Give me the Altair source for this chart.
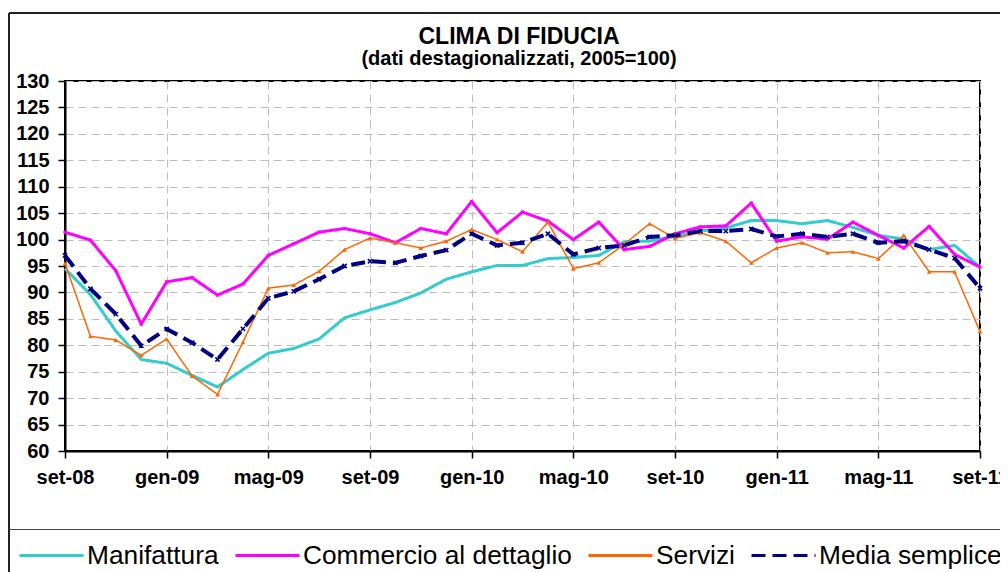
import json
import altair as alt
import pandas as pd

months = ["set-08", "ott-08", "nov-08", "dic-08",
          "gen-09", "feb-09", "mar-09", "apr-09", "mag-09", "giu-09", "lug-09", "ago-09",
          "set-09", "ott-09", "nov-09", "dic-09",
          "gen-10", "feb-10", "mar-10", "apr-10", "mag-10", "giu-10", "lug-10", "ago-10",
          "set-10", "ott-10", "nov-10", "dic-10",
          "gen-11", "feb-11", "mar-11", "apr-11", "mag-11", "giu-11", "lug-11", "ago-11",
          "set-11"]

manifattura = [94.5, 89.6, 82.7, 77.3, 76.6, 74.3, 72.1, 75.4, 78.5, 79.4, 81.2, 85.2,
               86.7, 88.1, 89.9, 92.5, 93.9, 95.1, 95.1, 96.4, 96.6, 97.0, 99.6, 99.7,
               100.6, 101.6, 102.2, 103.6, 103.6, 103.0, 103.6, 102.3, 100.8, 100.1, 98.1, 98.9,
               94.8]
commercio = [101.4, 99.9, 94.1, 84.0, 92.0, 92.8, 89.5, 91.6, 97.0, 99.2, 101.4, 102.1,
             101.1, 99.4, 102.1, 101.1, 107.2, 101.3, 105.2, 103.5, 100.0, 103.3, 98.1, 98.7,
             101.1, 102.4, 102.6, 106.9, 99.7, 100.5, 100.1, 103.3, 100.8, 98.4, 102.5, 97.2,
             94.8]
servizi = [95.5, 81.7, 81.0, 78.1, 81.2, 74.2, 70.7, 80.6, 90.8, 91.4, 94.0, 98.1,
           100.3, 99.4, 98.4, 99.7, 101.9, 100.0, 97.7, 103.3, 94.5, 95.6, 99.1, 103.0,
           100.2, 101.3, 99.7, 95.6, 98.4, 99.4, 97.5, 97.7, 96.4, 100.8, 93.9, 93.9,
           82.6]
media = [97.0, 90.7, 85.9, 79.9, 83.1, 80.5, 77.3, 83.1, 88.9, 90.2, 92.5, 95.0,
         95.9, 95.6, 96.9, 98.0, 101.1, 98.9, 99.4, 101.1, 97.2, 98.4, 98.9, 100.5,
         100.8, 101.6, 101.6, 102.0, 100.6, 101.1, 100.5, 101.1, 99.4, 99.7, 98.1, 96.5,
         90.8]

series_names = ["Manifattura", "Commercio al dettaglio", "Servizi", "Media semplice"]
series_values = [manifattura, commercio, servizi, media]
colors = ["#33CCCC", "#FF00FF", "#FF6600", "#000080"]
widths = [3, 3, 1.5, 4]
dashes = [[1, 0], [1, 0], [1, 0], [14, 7]]

y_ticks = list(range(60, 131, 5))
x_tick_positions = list(range(0, len(months), 4))

title_text = "CLIMA DI FIDUCIA"
subtitle_text = "(dati destagionalizzati, 2005=100)"

rows = []
for name, vals in zip(series_names, series_values):
    for i, (m, v) in enumerate(zip(months, vals)):
        rows.append({"mese": m, "pos": i, "serie": name, "valore": v})
df = pd.DataFrame(rows)

FONT = "Liberation Sans"
W, H = 915, 370

legend = alt.Legend(
    title=None, orient="none", legendX=-47, legendY=441, direction="horizontal",
    columns=4, symbolType="stroke", symbolSize=4096, symbolStrokeWidth=3,
    labelFont=FONT, labelFontSize=26.3, labelColor="black", labelOffset=2,
    columnPadding=10, padding=0, labelLimit=0,
)

x_enc = alt.X(
    "pos:Q",
    scale=alt.Scale(domain=[0, len(months) - 1], nice=False, zero=False),
    axis=alt.Axis(
        values=x_tick_positions, labelExpr=json.dumps(months) + "[datum.value]",
        title=None, grid=True, gridColor="#BDBDBD", gridDash=[8, 5], gridWidth=1,
        domainColor="black", domainWidth=2, tickColor="black", tickWidth=1.5, tickSize=7,
        labelFont=FONT, labelFontWeight="bold", labelFontSize=20, labelColor="black",
        labelPadding=9, labelFlush=False, labelOverlap=False,
    ),
)
y_enc = alt.Y(
    "valore:Q",
    scale=alt.Scale(domain=[60, 130], nice=False, zero=False),
    axis=alt.Axis(
        values=y_ticks, title=None, grid=True, gridColor="#BDBDBD", gridDash=[8, 5],
        gridWidth=1, domainColor="black", domainWidth=2, tickColor="black", tickWidth=1.5,
        tickSize=7, labelFont=FONT, labelFontWeight="bold", labelFontSize=20,
        labelColor="black", labelPadding=9, labelFlush=False, labelOverlap=False,
    ),
)

color_enc = alt.Color("serie:N", scale=alt.Scale(domain=series_names, range=colors), legend=legend)
dash_enc = alt.StrokeDash("serie:N", scale=alt.Scale(domain=series_names, range=dashes), legend=legend)

lines = []
for s, w in zip(series_names, widths):
    lines.append(
        alt.Chart(df)
        .transform_filter(alt.datum.serie == s)
        .mark_line(strokeWidth=w, strokeJoin="round")
        .encode(x=x_enc, y=y_enc, color=color_enc, strokeDash=dash_enc)
    )

pts = alt.Chart(df).encode(x=x_enc, y=y_enc)
mag_pts = pts.transform_filter(alt.datum.serie == series_names[1]).mark_point(
    shape="square", filled=True, size=10, color=colors[1], opacity=1)
ora_pts = pts.transform_filter(alt.datum.serie == series_names[2]).mark_point(
    shape="triangle-up", filled=True, size=22, color=colors[2], opacity=1)
nav_pts = pts.transform_filter(alt.datum.serie == series_names[3]).mark_point(
    shape="M-1,-1L1,1M1,-1L-1,1", filled=False, size=18, strokeWidth=1.6, color=colors[3], opacity=1)

one = pd.DataFrame({"t": [title_text], "s": [subtitle_text]})
title_mark = alt.Chart(one).mark_text(
    font=FONT, fontSize=23, fontWeight="bold", color="black", align="center", baseline="alphabetic"
).encode(text="t:N", x=alt.value(454), y=alt.value(-37))
subtitle_mark = alt.Chart(one).mark_text(
    font=FONT, fontSize=20, fontWeight="bold", color="black", align="center", baseline="alphabetic"
).encode(text="s:N", x=alt.value(454), y=alt.value(-16))

frame_left = alt.Chart(one).mark_rule(color="#222222", strokeWidth=2).encode(
    x=alt.value(-56), y=alt.value(-68), y2=alt.value(495))
frame_top = alt.Chart(one).mark_rule(color="#222222", strokeWidth=2).encode(
    x=alt.value(-56), x2=alt.value(950), y=alt.value(-68))
frame_sep = alt.Chart(one).mark_rule(color="#444444", strokeWidth=1).encode(
    x=alt.value(-56), x2=alt.value(950), y=alt.value(448.5))

chart = alt.layer(
    *lines, mag_pts, ora_pts, nav_pts, title_mark, subtitle_mark, frame_left, frame_top, frame_sep
).properties(
    width=W, height=H,
    autosize=alt.AutoSizeParams(type="none"),
    padding={"left": 57, "top": 73, "right": 20, "bottom": 121},
    background="white",
).configure_view(stroke="black", strokeWidth=2)

chart.save("out.html", embed_options={"renderer": "svg", "actions": False})
